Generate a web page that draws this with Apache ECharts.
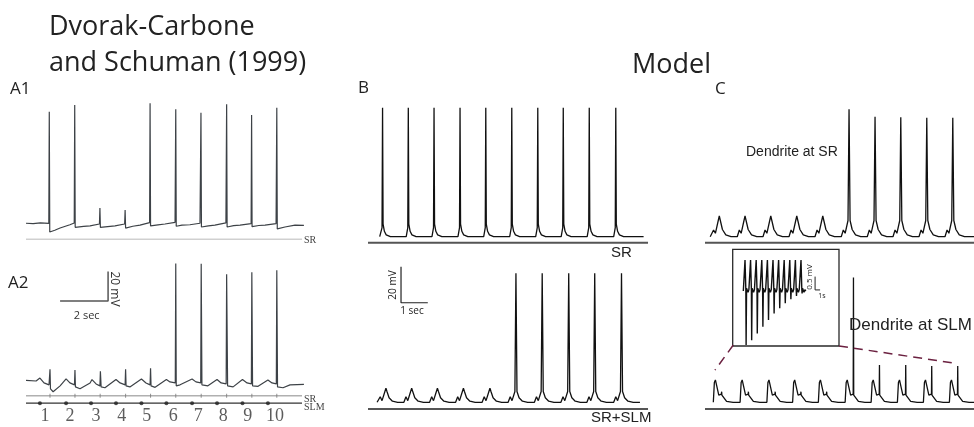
<!DOCTYPE html>
<html><head><meta charset="utf-8">
<script src="https://cdn.jsdelivr.net/npm/echarts@6/dist/echarts.min.js"></script>
<style>html,body{margin:0;padding:0;background:#fff}#c{width:974px;height:427px}</style>
</head><body><div id="c"></div>
<script>
// ===== Data: time (s), potential (mV relative to rest) =====
// A1: recording, SR stimulation
const a1Trace = [[0,0.5],[0.3,0.2],[0.6,0.8],[0.95,0.4],[0.97,74.9],[0.99,-5.3],[1.2,-4.2],[1.42,-2.7],[1.83,-0.5],[2.01,0.7],[2.03,79.3],[2.05,-2.2],[2.4,-1.6],[2.67,-1.3],[3.06,0],[3.08,10.7],[3.1,-2.3],[3.4,-1.8],[3.71,-1.3],[4.11,0],[4.13,9.3],[4.15,-2.7],[4.45,-1.5],[4.75,-0.7],[5.15,0.9],[5.17,80.5],[5.19,-1.3],[5.5,-0.6],[5.79,0],[6.21,1.1],[6.24,76.5],[6.26,-1.5],[6.5,-0.8],[6.83,-0.5],[7.25,0.5],[7.29,74.2],[7.31,-2],[7.6,-1.2],[7.87,-0.7],[8.33,0.7],[8.36,79.8],[8.38,-2],[8.65,-1.1],[8.92,-0.7],[9.38,0.3],[9.40,72.7],[9.42,-1.8],[9.7,-1],[9.96,-0.7],[10.42,0.3],[10.45,77.5],[10.47,-3.3],[10.79,-2],[11.21,-0.7],[11.58,-0.9]];
const a1Stim = [0.97,2.03,3.08,4.13,5.17,6.24,7.29,8.36,9.40,10.45];
// A2: recording, SR + SLM stimulation
const a2Trace = [[0,1.7],[0.42,1.3],[0.58,3.3],[0.75,0],[0.96,-1.3],[1.0,9.3],[1.02,-4],[1.13,-6],[1.42,-2],[1.67,2.7],[1.83,0],[2.02,-1.3],[2.04,8.7],[2.06,-2.7],[2.25,-4],[2.67,0],[2.75,2.3],[2.92,-0.7],[3.08,-2],[3.1,8],[3.13,-2.7],[3.29,-3.3],[3.75,2.3],[3.92,0],[4.13,-1.3],[4.15,9.3],[4.17,-2],[4.33,-2.7],[4.81,2.7],[5.0,0],[5.17,-1.3],[5.19,10],[5.21,-2],[5.38,-3],[5.85,2.3],[6.0,0.7],[6.22,0],[6.24,81.3],[6.26,-2],[6.42,-1.3],[6.92,2.7],[7.08,0.7],[7.28,0],[7.30,81.1],[7.33,-1.3],[7.58,-2],[7.96,2.3],[8.13,0],[8.34,-0.7],[8.36,74],[8.4,-2],[8.63,-2.7],[9.02,2.3],[9.21,0],[9.39,-0.7],[9.41,75.3],[9.44,-2],[9.67,-2.3],[10.08,2],[10.25,0],[10.43,-0.7],[10.45,76.7],[10.48,-2.7],[10.71,-3.3],[11.0,-1.3],[11.58,-1]];
const a2SrStim = [1.0,2.04,3.09,4.15,5.19,6.24,7.30,8.36,9.41,10.45];
const a2SlmStim = [0.58,1.67,2.71,3.75,4.81,5.85,6.92,7.96,9.02,10.08];
const stimNumbers = ['1','2','3','4','5','6','7','8','9','10'];
const stimNumberTimes = [0.79,1.83,2.92,3.99,5.03,6.14,7.18,8.22,9.24,10.38];
// B: model soma, SR only
const bSrTimes = [0.56,1.55,2.54,3.54,4.53,5.53,6.53,7.51,8.51,9.53];
const bSrPeaks = [71.7,71.7,71.7,71.7,71.7,71.7,71.7,71.7,71.7,71.7];
// B: model soma, SR + SLM
const bBothTimes = [0.69,1.68,2.67,3.67,4.69,5.69,6.70,7.72,8.72,9.75];
const bBothPeaks = [7.8,7.8,7.8,7.8,7.8,71.7,71.7,71.7,71.7,71.7];
// C: dendrite at SR
const cSrTimes = [0.55,1.54,2.53,3.53,4.53,5.54,6.54,7.53,8.53,9.53];
const cSrPeaks = [11.5,11.5,11.5,11.5,11.5,70.8,66.7,66.3,66.1,66.1];
// C: dendrite at SLM (main EPSP peak, then secondary bump / spike)
const cSlmTimes = [0.38,1.41,2.44,3.43,4.42,5.45,6.45,7.46,8.46,9.46];
const cSlmSecond = [5.9,5.9,5.9,5.9,5.9,69.4,20.7,20.7,20.2,20.2];
// C inset: zoomed dendrite at SLM
const insetTimes = [2.24,3.25,4.27,5.29,6.31,7.33,8.35,9.36,10.38,11.4,12.42];
const insetPeaks = [1.16,1.16,1.16,1.16,1.16,1.16,1.16,1.16,1.16,1.16,1.16];
const insetMins = [-2.02,-1.84,-1.59,-1.34,-1.09,-0.84,-0.65,-0.46,-0.31,-0.19,-0.09];

// waveform templates (offset s, value; 'P' = event peak, 'M' = event minimum)
const spikeShapeB = [[-0.08,0],[-0.02,5],[0,'P'],[0.02,7],[0.07,3],[0.14,1],[0.3,0]];
const epspShapeB = [[-0.3,0],[-0.22,3.1],[-0.15,0.9],[-0.04,6],[0,'P'],[0.04,6],[0.12,2.5],[0.25,0.6],[0.45,0]];
const epspShapeC = [[-0.3,0],[-0.22,3.7],[-0.15,1.9],[-0.04,9],[0,'P'],[0.04,9],[0.12,4],[0.25,1],[0.45,0]];
const slmShapeC = [[-0.06,0],[-0.02,11],[0.02,12.4],[0.08,11.5],[0.15,4],[0.2,3.5],[0.25,4.5],[0.26,'P'],[0.27,4],[0.32,3],[0.45,0.5],[0.7,0]];
const insetShape = [[-0.15,0],[0,'P'],[0.15,0.05],[0.2,'M'],[0.28,0.1],[0.55,-0.05],[0.7,0.05]];

function build(start, end, times, peaks, shape, mins) {
  const out = [start];
  times.forEach((t, i) => {
    shape.forEach(([dt, v]) => {
      const val = v === 'P' ? peaks[i] : (v === 'M' ? mins[i] : v);
      out.push([+(t + dt).toFixed(3), val]);
    });
  });
  out.push(end);
  return out;
}

const chart = echarts.init(document.getElementById('c'), null, {renderer: 'canvas'});

const grids = [
  {left: 26, top: 89, width: 288, height: 150},        // A1
  {left: 26, top: 236, width: 288, height: 195},       // A2
  {left: 368, top: 101.7, width: 286, height: 144},    // B SR
  {left: 368, top: 258.3, width: 286, height: 153},    // B SR+SLM
  {left: 705, top: 101.7, width: 269, height: 144},    // C SR
  {left: 705, top: 258.3, width: 269, height: 153},    // C SLM
  {left: 732.7, top: 249.3, width: 106.3, height: 96.7, show: true, borderColor: '#2a2a2a', borderWidth: 1.3, backgroundColor: '#fff', z: 5} // inset
];
const xr = [[0,12],[0,12],[0,11],[0,11],[0,10.346],[0,10.346],[0,19.33]];
const yr = [[-10,90],[-30,100],[-5,75],[-5,80],[-5,75],[-5,80],[-2.06,1.562]];
const xAxis = xr.map((r, i) => ({type: 'value', gridIndex: i, min: r[0], max: r[1], show: false}));
const yAxis = yr.map((r, i) => ({type: 'value', gridIndex: i, min: r[0], max: r[1], show: false}));

function line(idx, data, color, width, extra) {
  return Object.assign({type: 'line', xAxisIndex: idx, yAxisIndex: idx, data: data, showSymbol: false, symbol: 'none',
    lineStyle: {color: color, width: width}, animation: false, silent: true, z: 6}, extra || {});
}
function ticks(idx, times, v, color, sym, size) {
  return {type: 'scatter', xAxisIndex: idx, yAxisIndex: idx, data: times.map(t => [t, v]), symbol: sym, symbolSize: size,
    itemStyle: {color: color}, animation: false, silent: true, z: 6};
}

const series = [
  // A1
  line(0, a1Trace, '#3d4247', 1.2),
  line(0, [[0,-10.2],[11.5,-10.2]], '#8a8a8a', 1),
  ticks(0, a1Stim, -11.3, '#6a6a6a', 'rect', [1, 3]),
  // A2
  line(1, a2Trace, '#3d4247', 1.2),
  line(1, [[0,-8.7],[11.5,-8.7]], '#b0b0b0', 1.5),
  ticks(1, a2SrStim, -8.7, '#777', 'rect', [1, 4]),
  line(1, [[0,-13.8],[11.5,-13.8]], '#333', 1.3),
  ticks(1, a2SlmStim, -13.8, '#222', 'circle', 4),
  {type: 'scatter', xAxisIndex: 1, yAxisIndex: 1, data: stimNumberTimes.map((t, i) => [t, -22.7, stimNumbers[i]]),
    symbolSize: 0, animation: false, silent: true,
    label: {show: true, position: 'inside', formatter: p => p.data[2], fontFamily: 'Liberation Serif', fontSize: 18, color: '#333'}},
  line(1, [[1.42,55.8],[3.42,55.8],[3.42,75.8]], '#555', 1.5),
  // B
  line(2, build([0.45,0],[10.6,0], bSrTimes, bSrPeaks, spikeShapeB), '#111', 1.3),
  line(2, [[0,-3.3],[10.77,-3.3]], '#555', 2),
  line(3, build([0.35,0],[10.46,0], bBothTimes, bBothPeaks, epspShapeB), '#111', 1.3),
  line(3, [[0,-3.7],[10.77,-3.7]], '#555', 2),
  line(3, [[1.27,75.3],[1.27,55.3],[2.3,55.3]], '#222', 1.2),
  // C
  line(4, build([0.2,0],[10.346,0], cSrTimes, cSrPeaks, epspShapeC), '#111', 1.3),
  line(4, [[0,-3.3],[10.346,-3.3]], '#555', 2),
  line(5, build([0.32,0],[10.346,0], cSlmTimes, cSlmSecond, slmShapeC), '#111', 1.3),
  line(5, [[0,-3.7],[10.346,-3.7]], '#555', 2),
  line(5, [[1.088,31.8],[0.385,17.9]], '#6b2140', 1.5, {lineStyle: {color: '#6b2140', width: 1.5, type: [9, 6]}}),
  line(5, [[5.154,31.3],[9.615,21.7]], '#6b2140', 1.5, {lineStyle: {color: '#6b2140', width: 1.5, type: [9, 6]}}),
  // inset
  line(6, build([1.93,0],[13.3,0], insetTimes, insetPeaks, insetShape, insetMins), '#111', 1.4, {z: 7}),
  line(6, [[14.98,0.54],[14.98,0.04],[15.89,0.04]], '#222', 1, {z: 7})
];

function txt(x, y, s, size, family, opts) {
  return Object.assign({type: 'text', x: x, y: y, z: 20, silent: true,
    style: Object.assign({text: s, fontSize: size, fontFamily: family, fill: '#222', textAlign: 'left', textVerticalAlign: 'middle'}, (opts && opts.style) || {})},
    opts ? {rotation: opts.rotation || 0} : {});
}
const sans = 'Open Sans';
const arial = 'Liberation Sans';
const serif = 'Liberation Serif';
const graphic = [
  txt(49, 27, 'Dvorak-Carbone', 27, sans),
  txt(49, 63, 'and Schuman (1999)', 27, sans),
  txt(632, 65, 'Model', 27, sans),
  txt(10, 89, 'A1', 17, sans),
  txt(8, 283, 'A2', 17, sans),
  txt(358, 88.5, 'B', 17, sans),
  txt(715, 89, 'C', 17, sans),
  txt(304, 240, 'SR', 10, serif, {style: {fill: '#444'}}),
  txt(304, 399.5, 'SR', 10, serif, {style: {fill: '#444'}}),
  txt(304, 407.5, 'SLM', 10, serif, {style: {fill: '#444'}}),
  txt(86.7, 316, '2 sec', 11, sans, {style: {textAlign: 'center', fill: '#333'}}),
  txt(114, 289, '20 mV', 12, sans, {rotation: -Math.PI / 2, style: {textAlign: 'center', fill: '#333'}}),
  txt(611, 253, 'SR', 15, arial),
  txt(591, 418, 'SR+SLM', 15, arial),
  txt(393.5, 285, '20 mV', 10, sans, {rotation: Math.PI / 2, style: {textAlign: 'center'}}),
  txt(412, 311, '1 sec', 10, sans, {style: {textAlign: 'center'}}),
  txt(746, 151.7, 'Dendrite at SR', 14, arial),
  txt(849, 325, 'Dendrite at SLM', 17, arial),
  txt(810, 277, '0.5 mV', 8, sans, {rotation: Math.PI / 2, style: {textAlign: 'center'}}),
  txt(822, 296, '1s', 7, sans, {style: {textAlign: 'center'}})
];

chart.setOption({
  backgroundColor: '#fff',
  animation: false,
  grid: grids,
  xAxis: xAxis,
  yAxis: yAxis,
  series: series,
  graphic: graphic
});
</script></body></html>
